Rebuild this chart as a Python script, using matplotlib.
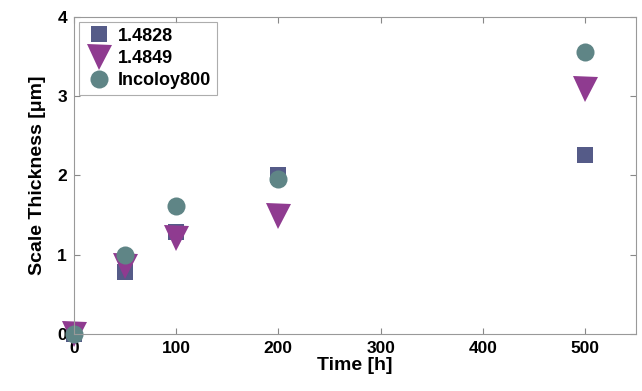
import matplotlib
matplotlib.use('Agg')
import matplotlib.pyplot as plt

plt.rcParams['font.family'] = ['Liberation Sans', 'DejaVu Sans']
plt.rcParams['font.weight'] = 'bold'

time_h = [0, 50, 100, 200, 500]
t_1_4828 = [0.0, 0.78, 1.28, 2.01, 2.26]
t_1_4849 = [0.0, 0.86, 1.21, 1.49, 3.09]
t_incoloy = [0.0, 0.99, 1.61, 1.96, 3.56]

fig = plt.figure(figsize=(6.42, 3.91), dpi=100)
ax = fig.add_axes([0.115, 0.146, 0.876, 0.811])

ax.plot(time_h, t_1_4828, 's', color='#555b88', markersize=11.5, markeredgewidth=0, label='1.4828', clip_on=False)
ax.plot(time_h, t_1_4849, 'v', color='#8f3b90', markersize=18, markeredgewidth=0, label='1.4849', clip_on=False)
ax.plot(time_h, t_incoloy, 'o', color='#5f8586', markersize=13, markeredgewidth=0, label='Incoloy800', clip_on=False)

ax.set_xlim(0, 550)
ax.set_ylim(0, 4)
ax.set_xticks([0, 100, 200, 300, 400, 500])
ax.set_yticks([0, 1, 2, 3, 4])
ax.tick_params(direction='in', top=True, right=True, length=4, color='#888888', labelsize=12.5, pad=5)
for s in ax.spines.values():
    s.set_color('#999999')
    s.set_linewidth(0.8)

ax.set_xlabel('Time [h]', fontsize=14, fontweight='bold', labelpad=1)
ax.set_ylabel('Scale Thickness [μm]', fontsize=14, fontweight='bold', labelpad=8)

leg = ax.legend(loc='upper left', fontsize=13, frameon=True, fancybox=False, handletextpad=0.25,
                borderpad=0.3, labelspacing=0.3, handlelength=1.6, borderaxespad=0.3)
leg.get_frame().set_edgecolor('#999999')
leg.get_frame().set_linewidth(0.8)

fig.savefig('out.png', dpi=100)
